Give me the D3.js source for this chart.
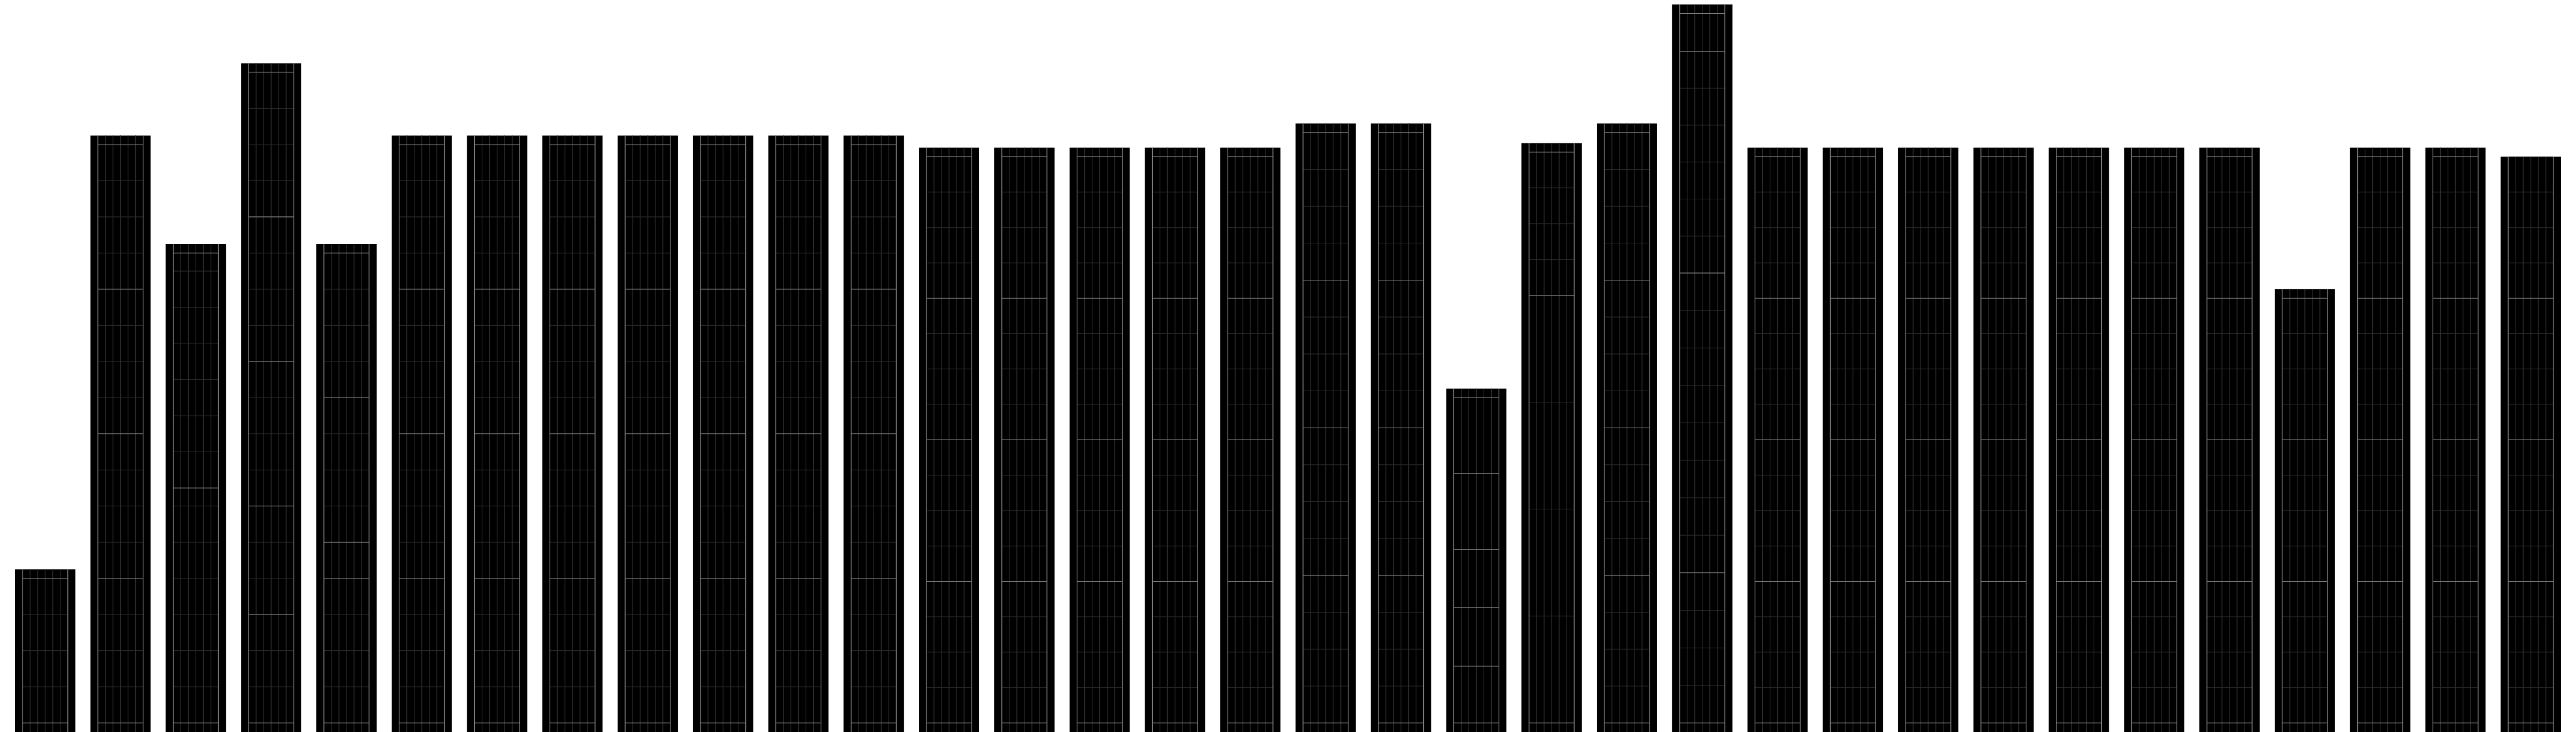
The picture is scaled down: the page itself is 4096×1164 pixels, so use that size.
<!DOCTYPE html>
<html>
<head>
<meta charset="utf-8">
<script src="https://cdn.jsdelivr.net/npm/d3@7"></script>
<style>
html,body{margin:0;padding:0;background:#fff;}
svg{display:block;}
</style>
</head>
<body>
<svg id="chart"></svg>
<script>
// ---- data (units: one grid row of the first bars = 1) ----
const categories = d3.range(1, 35).map(d => "B" + d);

const s12 = [3.9167, 3.9167, 3.9167, 3.9167];
const s17 = [4.0833, 4.0833, 4.0833, 4.0833];
// segment heights per bar, listed bottom to top
const segValues = [
  [4],
  [4, 4, 4, 4],
  [6.5, 6.5],
  [3, 3, 4, 4, 4],
  [4, 1, 4, 4],
  [4, 4, 4, 4], [4, 4, 4, 4], [4, 4, 4, 4], [4, 4, 4, 4], [4, 4, 4, 4], [4, 4, 4, 4], [4, 4, 4, 4],
  s12, s12, s12, s12, s12,
  s17, s17,
  [1.573, 1.615, 1.615, 2.104, 2.094],
  [11.833, 3.958],
  s17,
  [4.156, 8.292, 6.135, 1.042],
  s12, s12, s12, s12, s12, s12, s12,
  [3.9167, 3.9167, 3.9167],
  s12, s12,
  s12
];
// number of grid rows inside each segment
const segRows = [
  [4],
  [4, 4, 4, 4],
  [6.5, 6.5],
  [3, 3, 4, 4, 4],
  [4, 1, 4, 4],
  [4, 4, 4, 4], [4, 4, 4, 4], [4, 4, 4, 4], [4, 4, 4, 4], [4, 4, 4, 4], [4, 4, 4, 4], [4, 4, 4, 4],
  [4, 4, 4, 4], [4, 4, 4, 4], [4, 4, 4, 4], [4, 4, 4, 4], [4, 4, 4, 4],
  [4, 4, 4, 4], [4, 4, 4, 4],
  [1, 1, 1, 1, 1],
  [4, 4],
  [4, 4, 4, 4],
  [4, 8, 6, 1],
  [4, 4, 4, 4], [4, 4, 4, 4], [4, 4, 4, 4], [4, 4, 4, 4], [4, 4, 4, 4], [4, 4, 4, 4], [4, 4, 4, 4],
  [4, 4, 4],
  [4, 4, 4, 4], [4, 4, 4, 4],
  [4, 4, 4, 4]
];
// extra frame above the top of each bar (value units)
const framePad = categories.map((c, i) => i === 33 ? 0 : 0.25);
const columns = 6;

// ---- layout ----
const W = 4096, H = 1164;
const svg = d3.select("#chart").attr("width", W).attr("height", H);

const x = d3.scaleBand().domain(categories).range([0, W]).paddingInner(0.2).paddingOuter(0.2);
const y = d3.scaleLinear().domain([0, 20]).range([H * 1920 / 1944, 0]);
const pad = y(0) - y(0.25);

const bars = categories.map((c, i) => {
  const vals = segValues[i], rows = segRows[i];
  let base = 0;
  const segs = vals.map((v, j) => {
    const s = {b: base, t: base + v, rows: rows[j]};
    base += v;
    return s;
  });
  return {c, i, total: base, segs};
});

const g = svg.selectAll("g.bar").data(bars).join("g").attr("class", "bar");

g.each(function(d) {
  const sel = d3.select(this);
  const x0 = x(d.c), bw = x.bandwidth();
  const cx = d3.scaleLinear().domain([0, columns]).range([x0 + bw * 0.125, x0 + bw * 0.875]);
  const top = y(d.total + framePad[d.i]);
  const bottom = H;
  sel.append("rect").attr("x", x0).attr("y", top).attr("width", bw).attr("height", bottom - top).attr("fill", "#000");

  // dark row lines
  const dark = [];
  d.segs.forEach(s => {
    const rh = (s.t - s.b) / s.rows;
    for (let k = 1; k < s.rows; k++) dark.push(s.b + k * rh);
  });
  sel.selectAll("line.hd").data(dark).join("line").attr("class", "hd")
    .attr("x1", cx(0)).attr("x2", cx(columns)).attr("y1", v => y(v)).attr("y2", v => y(v))
    .attr("stroke", "#262626").attr("stroke-width", 1.1);

  // column lines
  sel.selectAll("line.vd").data(d3.range(1, columns)).join("line").attr("class", "vd")
    .attr("x1", k => cx(k)).attr("x2", k => cx(k)).attr("y1", top).attr("y2", bottom)
    .attr("stroke", "#2c2c2c").attr("stroke-width", 1.2);

  // light segment borders
  const light = [0].concat(d.segs.map(s => s.t));
  sel.selectAll("line.hl").data(light).join("line").attr("class", "hl")
    .attr("x1", cx(0)).attr("x2", cx(columns)).attr("y1", v => y(v)).attr("y2", v => y(v))
    .attr("stroke", "#7d7d7d").attr("stroke-width", 1.1);

  sel.selectAll("line.vl").data([0, columns]).join("line").attr("class", "vl")
    .attr("x1", k => cx(k)).attr("x2", k => cx(k)).attr("y1", top).attr("y2", bottom)
    .attr("stroke", "#808080").attr("stroke-width", 1.2);
});
</script>
</body>
</html>
